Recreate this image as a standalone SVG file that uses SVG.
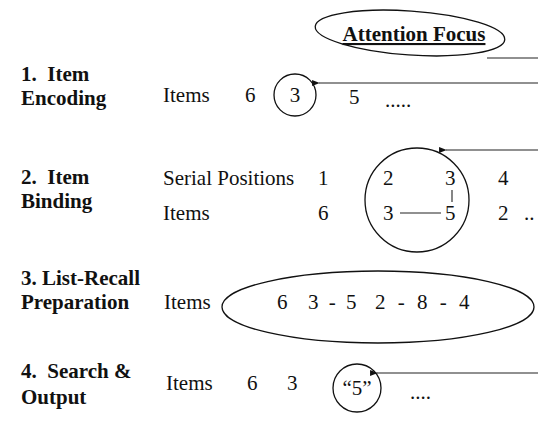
<svg xmlns="http://www.w3.org/2000/svg" width="538" height="423" viewBox="0 0 538 423">
<style>
text { font-family: "Liberation Serif", "Times New Roman", serif; font-size: 21px; fill: #111; }
.b { font-weight: bold; }
.m { text-anchor: middle; }
.s { fill: none; stroke: #111; stroke-width: 1.3; }
.c { fill: none; stroke: #222; stroke-width: 1.1; }
</style>
<defs>
<marker id="ah" viewBox="0 0 10 10" refX="1" refY="5" markerWidth="7" markerHeight="7" orient="auto">
<path d="M10,1 L0,5 L10,9 z" fill="#111"/>
</marker>
</defs>
<rect width="538" height="423" fill="#fff"/>

<g id="attention-focus">
<ellipse class="s" cx="410" cy="33" rx="95" ry="22" transform="rotate(4 410 33)"/>
<text class="b m" x="414" y="41" text-decoration="underline">Attention Focus</text>
</g>

<g id="step1">
<text class="b" x="21" y="81" xml:space="preserve">1.  Item</text>
<text class="b" x="21" y="105">Encoding</text>
<text x="163" y="102">Items</text>
<text x="245" y="102">6</text>
<circle class="s" cx="295" cy="95" r="21"/>
<text class="m" x="295" y="102">3</text>
<text x="349" y="104">5</text>
<text x="385" y="107">.....</text>
</g>

<g id="step2">
<text class="b" x="21" y="184" xml:space="preserve">2.  Item</text>
<text class="b" x="21" y="208">Binding</text>
<text x="163" y="185">Serial Positions</text>
<text x="318" y="185">1</text>
<text x="383" y="185">2</text>
<text x="445" y="185">3</text>
<text x="498" y="185">4</text>
<text x="163" y="220">Items</text>
<text x="318" y="220">6</text>
<text x="383" y="220">3</text>
<text x="445" y="220">5</text>
<text x="498" y="220">2</text>
<text x="524" y="220">..</text>
<circle class="s" cx="417" cy="200" r="52"/>
<line class="c" x1="452" y1="190" x2="452" y2="202"/>
<line class="c" x1="400" y1="213" x2="441" y2="213"/>
</g>

<g id="step3">
<text class="b" x="21" y="285">3. List-Recall</text>
<text class="b" x="21" y="309">Preparation</text>
<text x="164" y="309">Items</text>
<ellipse class="s" cx="378" cy="307" rx="156" ry="36"/>
<text x="277" y="309">6</text>
<text x="308" y="309" style="word-spacing:5px">3 - 5</text>
<text x="375" y="309" style="word-spacing:7px">2 - 8 - 4</text>
</g>

<g id="step4">
<text class="b" x="21" y="378" xml:space="preserve">4.  Search &amp;</text>
<text class="b" x="21" y="404">Output</text>
<text x="166" y="390">Items</text>
<text x="247" y="390">6</text>
<text x="287" y="390">3</text>
<circle class="s" cx="357" cy="388" r="24"/>
<text class="m" x="357" y="395">“5”</text>
<text x="410" y="399">....</text>
</g>

<g id="connectors">
<line class="c" x1="487" y1="58" x2="538" y2="58"/>
<line class="c" x1="538" y1="83" x2="319" y2="83" marker-end="url(#ah)"/>
<line class="c" x1="538" y1="150" x2="446" y2="150" marker-end="url(#ah)"/>
<line class="c" x1="538" y1="373" x2="377" y2="373" marker-end="url(#ah)"/>
</g>
</svg>
